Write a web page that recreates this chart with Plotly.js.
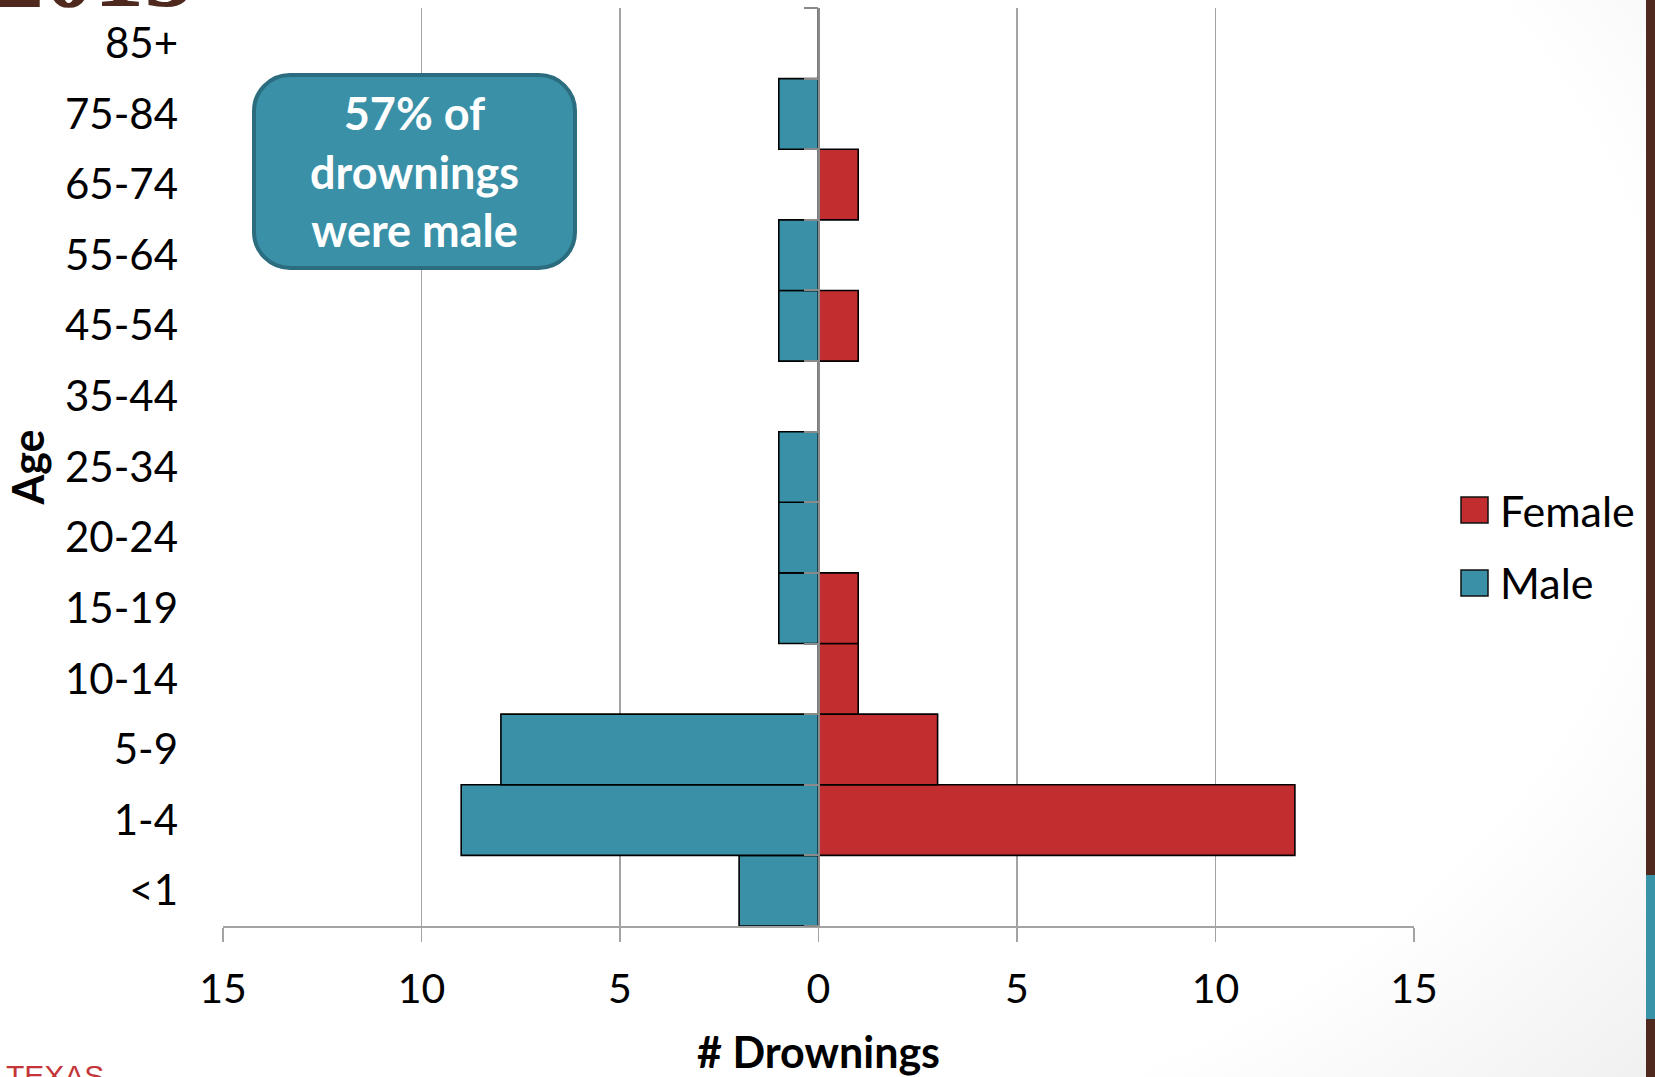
<!DOCTYPE html>
<html>
<head>
<meta charset="utf-8">
<script src="https://cdn.plot.ly/plotly-3.0.1.min.js"></script>
<style>
  html, body { margin: 0; padding: 0; width: 1655px; height: 1077px; overflow: hidden;
    background: radial-gradient(ellipse 105% 115% at 35% 38%, #ffffff 62%, #e3e3e3 100%); }
  #chart { width: 1655px; height: 1077px; }
</style>
</head>
<body>
<div id="chart"></div>
<script>
// ---- data (bottom row first) ----
const ages = ['<1', '1-4', '5-9', '10-14', '15-19', '20-24', '25-34', '35-44', '45-54', '55-64', '65-74', '75-84', '85+'];
const male = [2, 9, 8, 0, 1, 1, 1, 0, 1, 1, 0, 1, 0];
const female = [0, 12, 3, 1, 1, 0, 0, 0, 1, 0, 1, 0, 0];
const xTickVals = [-15, -10, -5, 0, 5, 10, 15];
const xTickText = ['15', '10', '5', '0', '5', '10', '15'];
const calloutLines = ['57% of', 'drownings', 'were male'];
const legendNames = ['Female', 'Male'];

const W = 1655, H = 1077;
const M = { l: 223, r: 241, t: 8, b: 151 };
const PW = W - M.l - M.r, PH = H - M.t - M.b;
const px = x => (x - M.l) / PW;
const py = y => (H - M.b - y) / PH;

const TEAL = '#3990a7';
const RED = '#c22d2f';
const GRID = '#a3a3a3';
const FONT = 'Lato, "Open Sans", sans-serif';

function roundRectPath(x0, y0, x1, y1, r) {
  const k = 0.5523 * r;
  const P = (x, y) => px(x).toFixed(5) + ',' + py(y).toFixed(5);
  return 'M' + P(x0 + r, y0) +
    ' L' + P(x1 - r, y0) +
    ' C' + P(x1 - r + k, y0) + ' ' + P(x1, y0 + r - k) + ' ' + P(x1, y0 + r) +
    ' L' + P(x1, y1 - r) +
    ' C' + P(x1, y1 - r + k) + ' ' + P(x1 - r + k, y1) + ' ' + P(x1 - r, y1) +
    ' L' + P(x0 + r, y1) +
    ' C' + P(x0 + r - k, y1) + ' ' + P(x0, y1 - r + k) + ' ' + P(x0, y1 - r) +
    ' L' + P(x0, y0 + r) +
    ' C' + P(x0, y0 + r - k) + ' ' + P(x0 + r - k, y0) + ' ' + P(x0 + r, y0) + ' Z';
}

const traces = [
  {
    type: 'bar', orientation: 'h', name: 'Male', y: ages, x: male.map(v => -v),
    marker: { color: TEAL, line: { color: '#000', width: 1.6 } },
    hoverinfo: 'skip', showlegend: false
  },
  {
    type: 'bar', orientation: 'h', name: 'Female', y: ages, x: female,
    marker: { color: RED, line: { color: '#000', width: 1.6 } },
    hoverinfo: 'skip', showlegend: false
  },
  {
    type: 'scatter', mode: 'markers', y: ages, x: ages.map(() => 0), yaxis: 'y2',
    marker: { opacity: 0 }, hoverinfo: 'skip', showlegend: false
  }
];

const shapes = [
  // callout box
  { type: 'path', xref: 'paper', yref: 'paper', path: roundRectPath(254, 75, 575, 268, 36),
    fillcolor: TEAL, line: { color: '#2b6d7e', width: 4 }, layer: 'above' },
  // custom legend swatches
  { type: 'rect', xref: 'paper', yref: 'paper', x0: px(1461), x1: px(1488), y0: py(497), y1: py(523),
    fillcolor: RED, line: { color: '#111', width: 1.5 } },
  { type: 'rect', xref: 'paper', yref: 'paper', x0: px(1461), x1: px(1488), y0: py(570), y1: py(596),
    fillcolor: TEAL, line: { color: '#111', width: 1.5 } },
  // right decorative bar
  { type: 'rect', xref: 'paper', yref: 'paper', x0: px(1646), x1: px(1660), y0: py(-5), y1: py(1085),
    fillcolor: '#4f291d', line: { width: 0 } },
  { type: 'rect', xref: 'paper', yref: 'paper', x0: px(1646), x1: px(1660), y0: py(875), y1: py(1019),
    fillcolor: '#3993a8', line: { width: 0 } }
];

const annotations = [
  { xref: 'paper', yref: 'paper', x: px(414), y: py(171), xanchor: 'center', yanchor: 'middle',
    text: calloutLines.join('<br>'), showarrow: false,
    font: { family: FONT, size: 45, color: '#ffffff', weight: 'bold' } },
  { xref: 'paper', yref: 'paper', x: px(1498), y: py(510), xanchor: 'left', yanchor: 'middle',
    text: legendNames[0], showarrow: false, font: { family: FONT, size: 43, color: '#000' } },
  { xref: 'paper', yref: 'paper', x: px(1498), y: py(583), xanchor: 'left', yanchor: 'middle',
    text: legendNames[1], showarrow: false, font: { family: FONT, size: 43, color: '#000' } },
  // cut-off slide title fragment
  { xref: 'paper', yref: 'paper', x: px(196), y: py(30), xanchor: 'right', yanchor: 'bottom',
    text: '2015', showarrow: false,
    font: { family: '"Liberation Serif", "DejaVu Serif", serif', size: 100, color: '#4f291d', weight: 'bold' } },
  // cut-off footer logo text
  { xref: 'paper', yref: 'paper', x: px(4), y: py(1057), xanchor: 'left', yanchor: 'top',
    text: 'TEXAS', showarrow: false,
    font: { family: '"Liberation Sans", sans-serif', size: 30, color: '#c4353a' } }
];

const layout = {
  width: W, height: H,
  margin: M,
  paper_bgcolor: 'rgba(0,0,0,0)',
  plot_bgcolor: 'rgba(0,0,0,0)',
  barmode: 'relative',
  bargap: 0,
  showlegend: false,
  font: { family: FONT, color: '#000' },
  xaxis: {
    range: [-15, 15], tickmode: 'array', tickvals: xTickVals, ticktext: xTickText,
    showgrid: true, gridcolor: GRID, gridwidth: 1.6, zeroline: false,
    showline: true, linecolor: GRID, linewidth: 1.6,
    ticks: 'outside', ticklen: 14, tickwidth: 1.6, tickcolor: GRID,
    ticklabelstandoff: 12,
    tickfont: { family: FONT, size: 41, color: '#000' },
    title: { text: '# Drownings', standoff: 27, font: { family: FONT, size: 43, color: '#000', weight: 'bold' } },
    fixedrange: true
  },
  yaxis: {
    type: 'category', categoryorder: 'array', categoryarray: ages, range: [-0.5, ages.length - 0.5],
    showgrid: false, zeroline: false, showline: false, ticks: '',
    ticklabelstandoff: 44,
    tickfont: { family: FONT, size: 42, color: '#000' },
    title: { text: 'Age', standoff: 6, font: { family: FONT, size: 43, color: '#000', weight: 'bold' } },
    fixedrange: true
  },
  yaxis2: {
    overlaying: 'y', anchor: 'free', position: 0.5, side: 'left',
    type: 'category', categoryorder: 'array', categoryarray: ages, range: [-0.5, ages.length - 0.5],
    showgrid: false, zeroline: false, showticklabels: false,
    showline: true, linecolor: '#8a8a8a', linewidth: 2,
    ticks: 'outside', ticklen: 14, tickwidth: 2, tickcolor: '#8a8a8a', tickson: 'boundaries',
    fixedrange: true
  },
  shapes: shapes,
  annotations: annotations
};

Plotly.newPlot('chart', traces, layout, { displayModeBar: false, staticPlot: true });
</script>
</body>
</html>
